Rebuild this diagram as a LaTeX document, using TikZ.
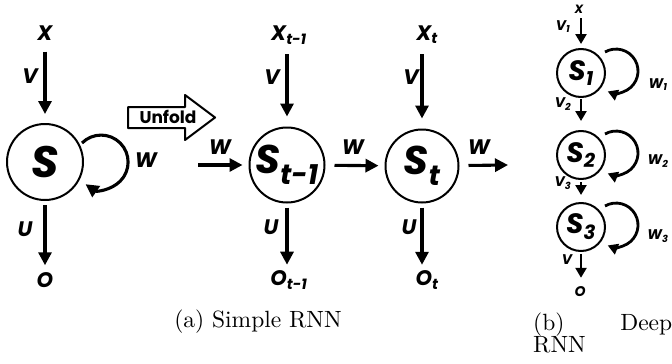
\documentclass[tikz,border=0pt]{standalone}
\usepackage{fontspec}
\newfontfamily\popfont{Poppins}
\newfontfamily\capfont{lmroman10-regular.otf}
\usetikzlibrary{arrows.meta}
\newcommand\lblsize[1]{\popfont\bfseries\itshape\fontsize{#1}{#1}\selectfont}

\begin{document}
\begin{tikzpicture}[x=1pt, y=1pt, line join=round,
    flow/.style={line width=3.1pt, -{Triangle[length=13pt,width=13pt]}},
    thinflow/.style={line width=2.8pt, -{Triangle[length=10pt,width=11pt]}},
    state/.style={circle, draw, line width=2pt, inner sep=0pt},
    lbl/.style={inner sep=0pt, font=\lblsize{21}},
    small/.style={inner sep=0pt, font=\lblsize{14}},
    captext/.style={inner sep=0pt, font=\capfont\fontsize{23.5}{22}\selectfont}]
  \useasboundingbox (0,0) rectangle (672,-364);
  % folded network
  \node[state, minimum size=76pt, font=\lblsize{44}] (s) at (45,-162) {S};
  \node[lbl] (x) at (45,-33) {X};
  \node[lbl] (o) at (45,-280) {O};
  \node[lbl] (v) at (30,-76) {V};
  \node[lbl] (u) at (25,-229) {U};
  \node[lbl] (w) at (146,-160) {W};
  \draw[flow, shorten <=11pt, shorten >=9pt] (s |- x.south) -- (s);
  \draw[flow, shorten <=4pt, shorten >=7pt] (s) -- (s |- o.north);
  \draw[flow] (s) ++(37,19) arc[start angle=135, end angle=-125, radius=27];
  % unfold arrow
  \draw[line width=2pt] (128,-107) -- (185,-107) -- (185,-95) -- (215,-117.5)
    -- (185,-140) -- (185,-128) -- (128,-128) -- cycle;
  \node[inner sep=0pt, font=\popfont\bfseries\fontsize{17}{17}\selectfont] (unfold) at (168,-117) {Unfold};
  % unfolded network
  \node[state, minimum size=75pt, font=\lblsize{40}] (st1) at (287,-165) {S\textsubscript{t-1}};
  \node[state, minimum size=73pt, font=\lblsize{40}] (st) at (422,-166) {S\textsubscript{t}};
  \node[lbl] (xt1) at (289,-35) {X\textsubscript{t-1}};
  \node[lbl] (xt) at (427,-35) {X\textsubscript{t}};
  \node[lbl] (ot1) at (289,-280) {O\textsubscript{t-1}};
  \node[lbl] (ot) at (427,-280) {O\textsubscript{t}};
  \node[lbl] (vt1) at (272,-77) {V};
  \node[lbl] (vt) at (411,-77) {V};
  \node[lbl] (ut1) at (271,-227) {U};
  \node[lbl] (ut) at (409,-227) {U};
  \node[lbl] (win) at (220,-147) {W};
  \node[lbl] (wmid) at (353,-147) {W};
  \node[lbl] (wout) at (479,-147) {W};
  \coordinate (in) at (198,-165);
  \coordinate (out) at (508,-165);
  \draw[flow, shorten >=6pt] (in) -- (st1);
  \draw[flow, shorten <=9pt, shorten >=6pt] (st1) -- (st);
  \draw[flow, shorten <=9pt] (st) -- (out);
  \draw[flow, shorten <=10pt, shorten >=10pt] (st1 |- xt1.south) -- (st1);
  \draw[flow, shorten <=10pt, shorten >=10pt] (st |- xt.south) -- (st);
  \draw[flow, shorten <=4pt, shorten >=6pt] (st1) -- (st1 |- ot1.north);
  \draw[flow, shorten <=4pt, shorten >=6pt] (st) -- (st |- ot.north);
  % deep network
  \foreach \i/\y in {1/-73, 2/-155, 3/-227}{
    \node[state, minimum size=48pt, font=\lblsize{28}] (d\i) at (581,\y) {S\textsubscript{\i}};
    \draw[thinflow] (d\i) ++(24,21) arc[start angle=120, end angle=-112, radius=22];
  }
  \node[inner sep=0pt, font=\lblsize{12}] (xd) at (579,-9) {X};
  \node[small] (od) at (580,-292) {O};
  \node[small] (v1) at (563,-27) {V\textsubscript{1}};
  \node[small] (v2) at (563,-104) {V\textsubscript{2}};
  \node[small] (v3) at (563,-183) {V\textsubscript{3}};
  \node[small] (vd) at (567,-260) {V};
  \node[small] (w1) at (658,-85) {W\textsubscript{1}};
  \node[small] (w2) at (658,-161) {W\textsubscript{2}};
  \node[small] (w3) at (658,-236) {W\textsubscript{3}};
  \draw[thinflow, shorten <=5pt, shorten >=4pt] (d1 |- xd.south) -- (d1);
  \draw[thinflow, shorten <=1pt, shorten >=9pt] (d1) -- (d2);
  \draw[thinflow, shorten <=2pt, shorten >=7pt] (d2) -- (d3);
  \draw[thinflow, shorten <=2pt, shorten >=9pt] (d3) -- (d3 |- od.north);
  % captions
  \node[captext] (capa) at (258,-322) {(a) Simple RNN};
  \node[captext, text width=139pt, align=justify, anchor=north west] (capb) at (533,-313) {(b) Deep\linebreak RNN};
\end{tikzpicture}
\end{document}
